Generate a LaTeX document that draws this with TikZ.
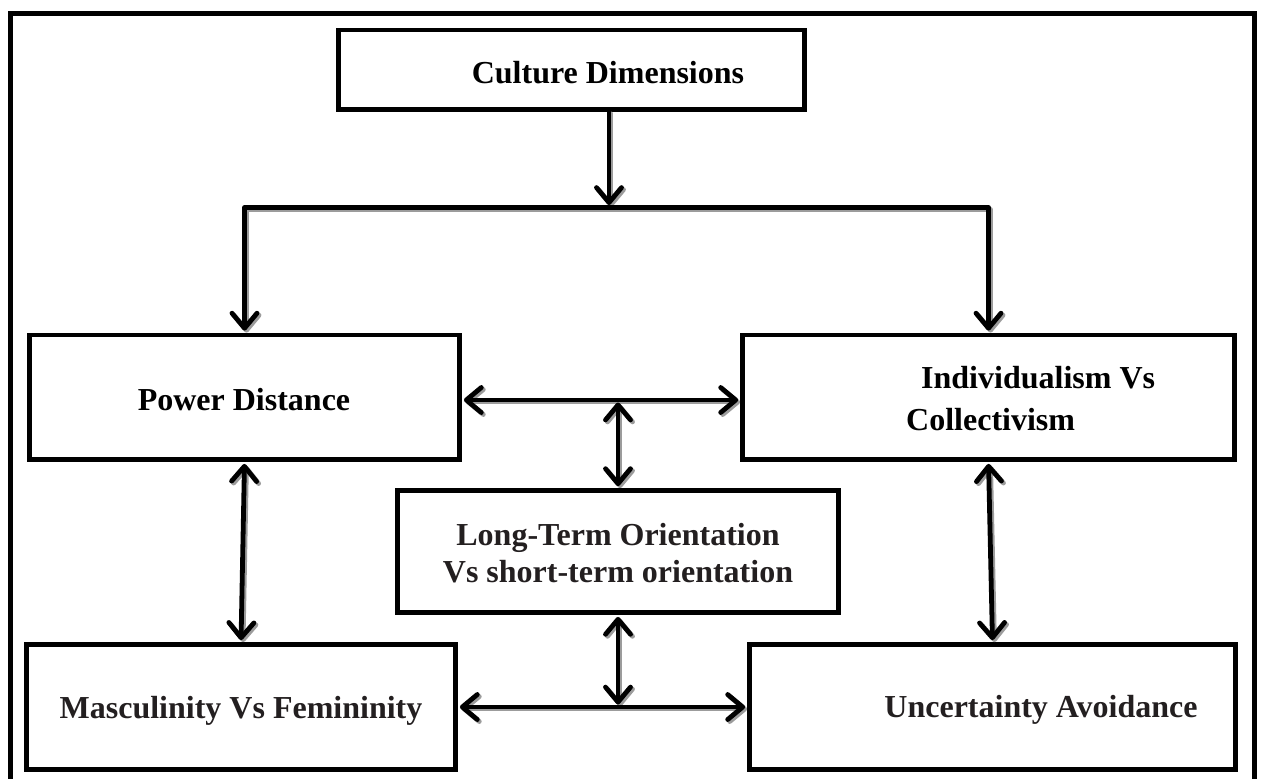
\documentclass[tikz,border=0pt]{standalone}
\usepackage{fontspec}
\setmainfont{Liberation Serif}
\usetikzlibrary{arrows.meta}
\definecolor{inkdark}{HTML}{231F20}
\definecolor{shadowgray}{HTML}{9C9C9C}

% connectors between the dimension boxes (drawn twice: shadow, then ink)
\newcommand{\drawlinks}[1]{%
  \draw[conn,#1,->,shorten >=2.5pt] (cd.south -| split) -- (split);
  \draw[conn,#1,->,shorten >=2pt] (split) -| (pd.north);
  \draw[conn,#1,->,shorten >=2pt] (split) -| (ic.north);
  \draw[conn,#1,<->,shorten <=2pt,shorten >=2pt] (pd.east |- hubtop) -- (ic.west |- hubtop);
  \draw[conn,#1,<->,shorten <=2.5pt,shorten >=2pt] (hubtop) -- (lt.north);
  \draw[conn,#1,<->,shorten <=2pt,shorten >=2pt] (pd.south) -- (mf.north);
  \draw[conn,#1,<->,shorten <=2pt,shorten >=2pt] (ic.south) -- (ua.north);
  \draw[conn,#1,<->,shorten <=2pt,shorten >=2.5pt] (lt.south) -- (hubbot);
  \draw[conn,#1,<->,shorten <=2pt,shorten >=2pt] (mf.east |- hubbot) -- (ua.west |- hubbot);
}

\begin{document}
\begin{tikzpicture}[x=1pt,y=-1pt,
  box/.style={draw=black, line width=4.8pt, rectangle, inner sep=0pt},
  conn/.style={line width=4.8pt, line cap=round, line join=round,
    >={Straight Barb[length=15pt,width=25pt,line cap=round,line join=round]}},
  lbl/.style={font=\bfseries\fontsize{32}{36}\selectfont, inner sep=0pt, anchor=base},
  dark/.style={text=inkdark},
  frame/.style={draw=black, line width=5pt}]

\useasboundingbox (0,0) rectangle (1261,779);
\fill[white] (0,0) rectangle (1261,779);

% outer frame (its lower edge runs past the page)
\draw[frame] (10.5,13.5) rectangle (1254,800);

% dimension boxes
\node[box, minimum width=466pt, minimum height=79.5pt] (cd) at (571.5,69.75) {};
\node[box, minimum width=430pt, minimum height=124.5pt] (pd) at (244.5,397.25) {};
\node[box, minimum width=492pt, minimum height=124.5pt] (ic) at (988.5,397.25) {};
\node[box, minimum width=441pt, minimum height=122pt] (lt) at (618,551.5) {};
\node[box, minimum width=429pt, minimum height=125pt] (mf) at (241,707) {};
\node[box, minimum width=486pt, minimum height=125pt] (ua) at (992.5,707) {};

% junction points of the connectors
\coordinate (split) at (609,207.5);
\coordinate (hubtop) at (618,400);
\coordinate (hubbot) at (618,707);

% box labels
\node[lbl] (cd-text) at (608,83) {Culture Dimensions};
\node[lbl] (pd-text) at (244,410) {Power Distance};
\node[lbl, anchor=base west] (ic-l1) at (921,388) {Individualism Vs};
\node[lbl, anchor=base west] (ic-l2) at (906,430) {Collectivism};
\node[lbl, dark] (lt-l1) at (618,545) {Long-Term Orientation};
\node[lbl, dark] (lt-l2) at (618,582) {Vs short-term orientation};
\node[lbl, dark] (mf-text) at (241,718) {Masculinity Vs Femininity};
\node[lbl, dark] (ua-text) at (1041,717) {Uncertainty Avoidance};

% connectors: soft shadow first, then the black strokes
\begin{scope}[transform canvas={shift={(2pt,-2pt)}}]
  \drawlinks{shadowgray}
\end{scope}
\drawlinks{black}
\end{tikzpicture}
\end{document}
